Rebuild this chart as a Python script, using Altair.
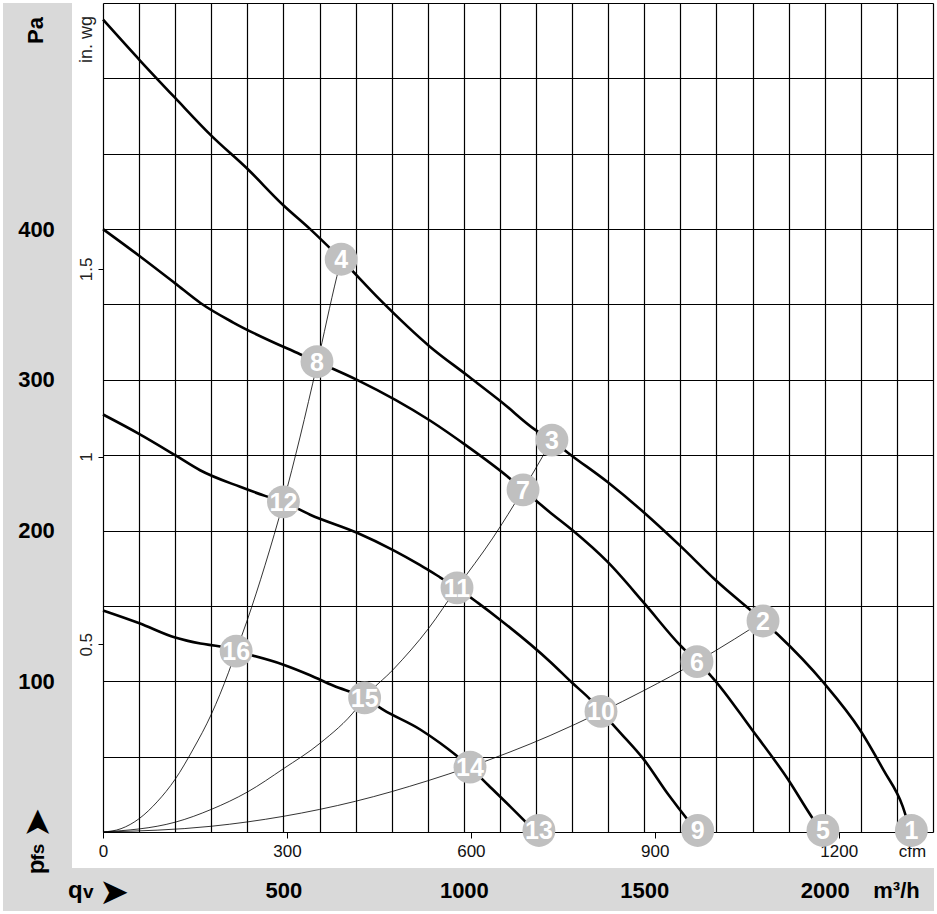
import altair as alt
import pandas as pd

# ---------------- data (Q in m3/h, P in Pa) ----------------
curve1_q = [0, 102, 200, 300, 400, 499, 574, 660, 768, 906, 1009, 1106, 1197, 1244, 1289, 1399, 1499, 1599, 1698, 1829, 1870, 1997, 2097, 2163, 2216, 2238]
curve1_p = [539, 512, 487, 462, 440, 416, 400, 380, 353, 322, 303, 285, 267, 260, 251.5, 232, 212, 190, 167, 140, 131, 99, 68, 41, 17, 0]

curve2_q = [0, 102, 200, 270, 361, 546, 593, 704, 906, 1009, 1120, 1164, 1239, 1302, 1399, 1499, 1599, 1646, 1687, 1798, 1898, 1964, 1993]
curve2_p = [400, 382, 364, 351, 338, 317, 312, 300, 273, 256, 236, 227, 212, 200, 179, 152, 124, 113, 103, 68, 35, 10, 0]

curve3_q = [0, 101, 200, 269, 380, 449, 500, 574, 704, 804, 879, 934, 981, 1039, 1101, 1239, 1300, 1350, 1380, 1433, 1499, 1566, 1624, 1648]
curve3_p = [277, 264, 250, 240, 229, 223, 219, 210.5, 198.5, 187, 177, 169, 162, 152, 140.7, 113, 99, 88, 80, 66, 48, 25, 7, 0]

curve4_q = [0, 101, 200, 270, 325, 369, 500, 574, 639, 725, 777, 879, 934, 1017, 1068, 1128, 1174, 1200]
curve4_p = [147, 138.5, 129, 125, 123, 120, 111, 104, 97, 89, 81, 68, 59, 43, 31, 17, 6, 0]

# system (resistance) curves
sys_a_q = [0, 50, 101, 150, 200, 250, 300, 348, 369, 399, 449, 500, 546, 593, 648, 660]
sys_a_p = [0, 2.2, 9, 20, 35, 55, 78, 106, 120, 140, 177, 219, 262, 310, 368.5, 380]
sys_b_q = [0, 200, 300, 400, 500, 602, 703, 725, 805, 902, 981, 1080, 1164, 1244]
sys_b_p = [0, 6.5, 15, 26.5, 42, 59, 82, 89, 108, 135, 162, 195, 227, 260]
sys_c_q = [0, 300, 500, 700, 900, 1017, 1239, 1380, 1500, 1646, 1750, 1829]
sys_c_p = [0, 3.8, 10.4, 20.4, 34, 43.3, 64, 79.6, 94, 113, 128, 140]

# numbered operating points
pt_id = ["1", "2", "3", "4", "5", "6", "7", "8", "9", "10", "11", "12", "13", "14", "15", "16"]
pt_q = [2240, 1829, 1244, 660, 1995, 1646, 1164, 593, 1648, 1380, 981, 500, 1208, 1017, 725, 369]
pt_p = [1, 140, 260, 380, 1, 113, 227, 312, 1, 80, 162, 219, 1, 43, 89, 120]

# axis ticks
q_grid = list(range(0, 2301, 100))
p_grid = list(range(0, 551, 50))
q_labels = [500, 1000, 1500, 2000]
p_labels = [100, 200, 300, 400]
cfm_ticks = [0, 300, 600, 900, 1200]
inwg_ticks = [0.5, 1, 1.5]
CFM = 1.69901      # m3/h per cfm
INWG = 249.09      # Pa per in. wg

X_MAX, Y_MAX = 2300, 550

# ---------------- frames ----------------
def frame(name, q, p):
    return pd.DataFrame({"curve": name, "q": q, "p": p})

main_df = pd.concat([frame("c1", curve1_q, curve1_p), frame("c2", curve2_q, curve2_p),
                     frame("c3", curve3_q, curve3_p), frame("c4", curve4_q, curve4_p)])
sys_df = pd.concat([frame("a", sys_a_q, sys_a_p), frame("b", sys_b_q, sys_b_p),
                    frame("c", sys_c_q, sys_c_p)])
pts_df = pd.DataFrame({"id": pt_id, "q": pt_q, "p": pt_p})
one = pd.DataFrame({"k": [0]})

FONT = "Liberation Sans"
GRAY = "#d9d9d9"

def xs():
    return alt.Scale(domain=[0, X_MAX], nice=False, zero=False)

def ys():
    return alt.Scale(domain=[0, Y_MAX], nice=False, zero=False)

# gray bands
band_left = alt.Chart(one).mark_rect(color=GRAY).encode(
    x=alt.value(-100), x2=alt.value(-31), y=alt.value(0), y2=alt.value(908))
band_bottom = alt.Chart(one).mark_rect(color=GRAY).encode(
    x=alt.value(-100), x2=alt.value(831), y=alt.value(865), y2=alt.value(908))

# main curves + grid axes
main = alt.Chart(main_df).mark_line(color="black", strokeWidth=2.6, interpolate="monotone").encode(
    x=alt.X("q:Q", scale=xs(), axis=alt.Axis(
        orient="bottom", values=q_grid, grid=True, gridColor="black", gridWidth=1.2, gridOpacity=1,
        labels=False, ticks=False, domain=False, title=None, zindex=0)),
    y=alt.Y("p:Q", scale=ys(), axis=alt.Axis(
        orient="left", values=p_grid, grid=True, gridColor="black", gridWidth=1.2, gridOpacity=1,
        labels=False, ticks=False, domain=False, title=None, zindex=0)),
    detail="curve:N",
)

# system curves + secondary unit axes (cfm, in. wg)
system = alt.Chart(sys_df).mark_line(color="black", strokeWidth=0.8, interpolate="monotone").encode(
    x=alt.X("q:Q", scale=xs(), axis=alt.Axis(
        orient="bottom", values=[c * CFM for c in cfm_ticks],
        labelExpr=f"format(round(datum.value / {CFM}), 'd')",
        grid=False, domain=False, ticks=True, tickSize=6, tickColor="black", tickWidth=1,
        labelPadding=18, labelBaseline="alphabetic", labelFontSize=17, labelColor="#111",
        labelFlush=False, labelOverlap=False,
        title="cfm", titleX=809, titleY=24, titleAlign="center", titleBaseline="alphabetic",
        titleFontSize=17, titleFontWeight="normal", titleColor="#111", zindex=0)),
    y=alt.Y("p:Q", scale=ys(), axis=alt.Axis(
        orient="left", values=[v * INWG for v in inwg_ticks],
        labelExpr=f"format(datum.value / {INWG}, '.1~f')",
        grid=False, domain=False, ticks=True, tickSize=5, tickColor="black", tickWidth=1,
        labelPadding=12, labelAngle=270, labelAlign="center", labelBaseline="middle",
        labelFontSize=17, labelColor="#222", labelFlush=False, labelOverlap=False,
        title="in. wg", titleAngle=270, titleX=-17, titleY=36, titleAlign="center",
        titleBaseline="middle", titleFontSize=18, titleFontWeight="normal", titleColor="#222",
        zindex=0)),
    detail="curve:N",
)

# circles + primary labelled axes (Pa, m3/h)
circles = alt.Chart(pts_df).mark_circle(size=1080, color="#c0c0c0", opacity=1).encode(
    x=alt.X("q:Q", scale=xs(), axis=alt.Axis(
        orient="bottom", values=q_labels, format="d", grid=False, domain=False, ticks=False, tickSize=0,
        labelPadding=65, labelBaseline="alphabetic", labelFontSize=22, labelFontWeight="bold",
        labelColor="black", labelFlush=False, labelOverlap=False,
        title="m³/h", titleX=793, titleY=65, titleAlign="center", titleBaseline="alphabetic",
        titleFontSize=22, titleFontWeight="bold", titleColor="black", zindex=1)),
    y=alt.Y("p:Q", scale=ys(), axis=alt.Axis(
        orient="left", values=p_labels, format="d", grid=False, domain=False, ticks=False, tickSize=0,
        labelPadding=67, labelAlign="center", labelBaseline="middle", labelFontSize=22,
        labelFontWeight="bold", labelColor="black", labelFlush=False, labelOverlap=False,
        title="Pa", titleAngle=270, titleX=-68, titleY=27, titleAlign="center",
        titleBaseline="middle", titleFontSize=22, titleFontWeight="bold", titleColor="black",
        zindex=1)),
)

numbers = alt.Chart(pts_df).mark_text(
    font=FONT, fontSize=25, fontWeight="bold", color="white", baseline="middle", align="center", dy=1
).encode(
    x=alt.X("q:Q", scale=xs(), axis=None),
    y=alt.Y("p:Q", scale=ys(), axis=None),
    text="id:N",
)

def label(txt, x, y, size, weight="bold", angle=0, align="left", baseline="alphabetic", font=FONT):
    return alt.Chart(one).mark_text(
        text=txt, font=font, fontSize=size, fontWeight=weight, angle=angle,
        align=align, baseline=baseline, color="black"
    ).encode(x=alt.value(x), y=alt.value(y))

qv_q = label("q", -35, 895, 24)
qv_v = label("v", -20, 895, 19)
qv_arrow = label("➤", 11, 890, 36, weight="normal", align="center", baseline="middle", font="DejaVu Sans")
pfs_p = label("p", -59, 864, 24, angle=270, align="center")
pfs_fs = label("fs", -59, 849, 19, angle=270, align="center")
pfs_arrow = label("➤", -65.5, 820, 36, weight="normal", angle=270, align="center",
                  baseline="middle", font="DejaVu Sans")

chart = alt.layer(
    band_left, band_bottom, main, system, circles, numbers,
    qv_q, qv_v, qv_arrow, pfs_p, pfs_fs, pfs_arrow,
).resolve_scale(
    x="independent", y="independent"
).properties(
    width=830, height=829,
    autosize=alt.AutoSizeParams(type="none"),
    padding={"left": 103, "top": 3, "right": 4, "bottom": 82},
    background="white",
).configure_view(
    strokeWidth=0
).configure(
    font=FONT
)

chart.save("out.html", embed_options={"renderer": "svg", "actions": False})
